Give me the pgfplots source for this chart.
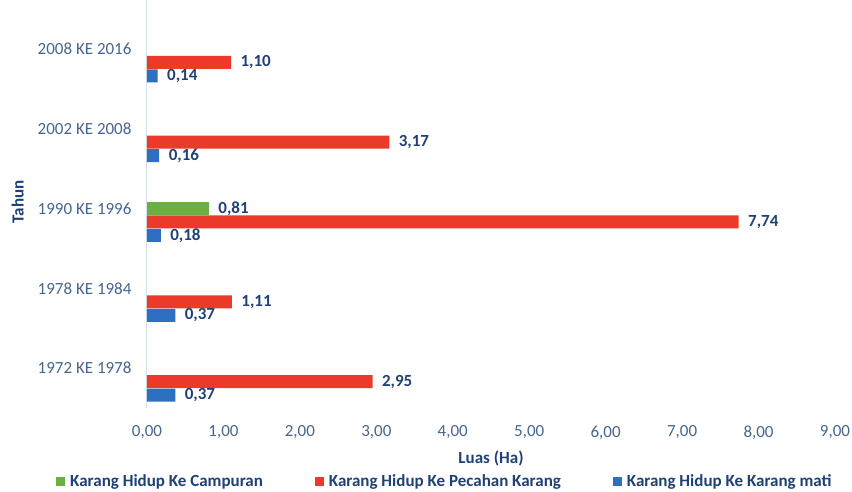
\documentclass[border=0pt]{standalone}
\usepackage{fontspec}
\setmainfont{Carlito}
\usepackage{pgfplots}
\pgfplotsset{compat=1.18}
\definecolor{cgreen}{HTML}{6AB043}
\definecolor{cred}{HTML}{EB3A29}
\definecolor{cblue}{HTML}{2E6FC0}
\definecolor{lblue}{HTML}{1F4175}
\definecolor{tblue}{HTML}{456690}
\definecolor{axisc}{HTML}{D3E1EE}
\begin{document}
\begin{tikzpicture}
\useasboundingbox (-147pt,-83pt) rectangle (705pt,408pt);
\begin{axis}[
  at={(0pt,0pt)}, anchor=south west,
  scale only axis, width=688pt, height=408pt,
  xmin=0, xmax=9, ymin=-0.33, ymax=4.78,
  xbar, bar width=13pt, bar shift=0pt,
  axis x line=bottom, axis y line=left,
  axis line style={-},
  x axis line style={draw=none},
  y axis line style={draw=axisc, line width=1pt},
  major tick length=0pt,
  xtick={0,1,2,3,4,5,6,7,8,9},
  ytick={0.169,1.169,2.169,3.169,4.169},
  yticklabels={1972 KE 1978, 1978 KE 1984, 1990 KE 1996, 2002 KE 2008, 2008 KE 2016},
  /pgf/number format/.cd, fixed, fixed zerofill, precision=2, use comma, assume math mode=true,
  /pgfplots/.cd,
  ticklabel style={font=\fontsize{17}{20}\selectfont, text=tblue},
  xticklabel style={yshift=-14pt},
  yticklabel style={xshift=-12pt},
  xlabel={Luas (Ha)},
  xlabel style={font=\bfseries\fontsize{17}{20}\selectfont, text=lblue, at={(axis description cs:0.5,-0.1225)}, anchor=center},
  ylabel={Tahun},
  ylabel style={font=\bfseries\fontsize{17}{20}\selectfont, text=lblue, at={(axis description cs:-0.188,0.505)}, anchor=center},
  nodes near coords,
  nodes near coords style={font=\bfseries\fontsize{17}{20}\selectfont, text=lblue, anchor=west, xshift=6pt},
  legend columns=3,
  legend cell align=left,
  legend style={at={(axis description cs:0.433,-0.179)}, anchor=center, draw=none, fill=none,
    font=\bfseries\fontsize{17}{20}\selectfont, text=lblue,
    /tikz/every even column/.append style={column sep=50pt}},
]
\addplot[fill=cgreen, draw=none, legend image code/.code={\fill[cgreen] (0pt,-4.5pt) rectangle (9pt,4.5pt); \path (12pt,0pt);}]
  coordinates {(0.81,2.169)};
\addplot[fill=cred, draw=none, legend image code/.code={\fill[cred] (0pt,-4.5pt) rectangle (9pt,4.5pt); \path (12pt,0pt);}]
  coordinates {(2.95,0) (1.11,1) (7.74,2) (3.17,3) (1.10,4)};
\addplot[fill=cblue, draw=none, legend image code/.code={\fill[cblue] (0pt,-4.5pt) rectangle (9pt,4.5pt); \path (12pt,0pt);}]
  coordinates {(0.37,-0.169) (0.37,0.831) (0.18,1.831) (0.16,2.831) (0.14,3.831)};
\legend{Karang Hidup Ke Campuran, Karang Hidup Ke Pecahan Karang, Karang Hidup Ke Karang mati}
\end{axis}
\end{tikzpicture}
\end{document}
